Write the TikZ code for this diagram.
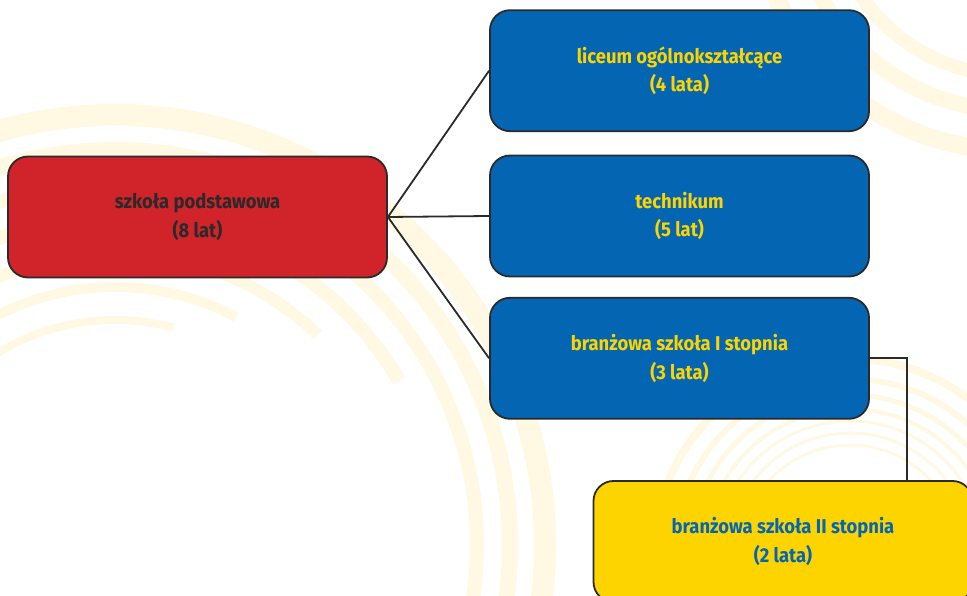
\documentclass[tikz,border=0pt]{standalone}
\usepackage{fontspec}
\setmainfont{Fira Sans}[FakeStretch=0.92]
\usetikzlibrary{positioning}

\definecolor{szred}{HTML}{D0232A}
\definecolor{szblue}{HTML}{0466B3}
\definecolor{szyellow}{HTML}{FDD400}
\definecolor{szdark}{HTML}{2A2A2A}
\definecolor{szcream}{HTML}{FFF8E2}

\begin{document}
\begin{tikzpicture}[
    x=1pt,y=1pt,
    box/.style={draw=szdark,line width=1.8pt,rounded corners=20pt,
      minimum width=379pt,minimum height=121pt,align=center,
      font=\fontsize{20}{28.5}\selectfont\bfseries},
    school/.style={box,fill=szred,text=szdark},
    upper/.style={box,fill=szblue,text=szyellow},
    further/.style={box,fill=szyellow,text=szblue},
    link/.style={draw=szdark,line width=1.8pt},
    ring/.style={draw=szcream,line cap=butt}
    ]
% BOUNDING BOX
\useasboundingbox (0,0) rectangle (967,595);
\begin{scope}
\clip (0,0) rectangle (967,595);

% BACKGROUND ARCS
\coordinate (C) at (115,50);   % centre left rings
\foreach \r/\a/\b/\w in {225/75/175/8, 258/62/178/10, 292/46/180/12,
    328/30/180/14, 362/-20/180/14, 395/-30/180/16, 430/-30/180/22}
  \draw[ring,line width=\w] (C) ++(\a:\r) arc[start angle=\a,end angle=\b,radius=\r];
\coordinate (D) at (850,40);   % centre right rings
\foreach \r/\w in {110/3, 122/3, 134/3, 146/4, 160/5, 176/6, 196/8}
  \draw[ring,line width=\w] (D) ++(0:\r) arc[start angle=0,end angle=165,radius=\r];
\coordinate (E) at (1010,700); % centre top right rings
\foreach \r/\w in {180/14, 215/16, 255/18}
  \draw[ring,line width=\w] (E) ++(180:\r) arc[start angle=180,end angle=270,radius=\r];

% SCHOOLS
\node[school] (sp) at (197.5,378) {szkoła podstawowa\\(8 lat)};
\node[upper] (tech) at (679.5,379) {technikum\\(5 lat)};
\node[upper,above=22.5pt of tech] (lo) {liceum ogólnokształcące\\(4 lata)};
\node[upper,below=19.5pt of tech] (bs1) {branżowa szkoła I stopnia\\(3 lata)};
\node[further] (bs2) at (783,53.5) {branżowa szkoła II stopnia\\(2 lata)};
\coordinate (bs2top) at ([xshift=124pt]bs2.north);

% LINKS
\draw[link] (sp.east) -- (lo.west);
\draw[link] (sp.east) -- (tech.west);
\draw[link] (sp.east) -- (bs1.west);
\draw[link] (bs1.east) -| (bs2top);
\end{scope}
\end{tikzpicture}
\end{document}
